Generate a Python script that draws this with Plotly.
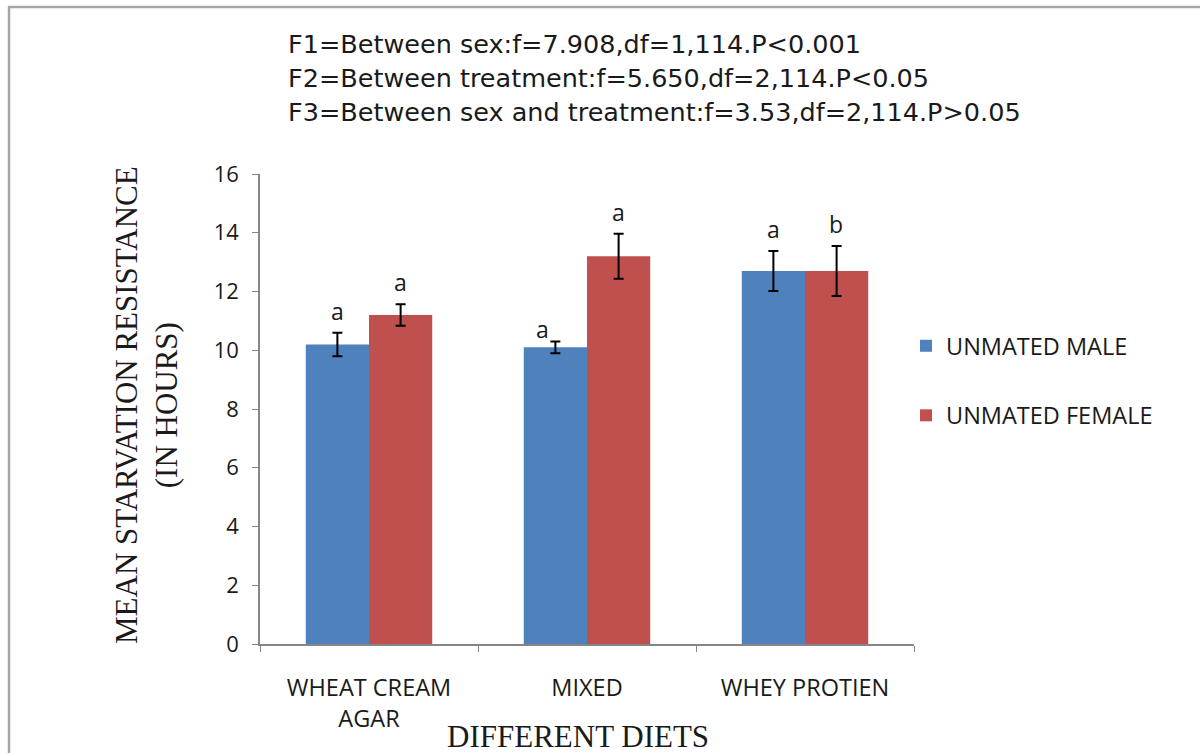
import plotly.graph_objects as go

# Diets and mean starvation resistance (hours) with standard errors
diets = ["WHEAT CREAM<br>AGAR", "MIXED", "WHEY PROTIEN"]
male_mean = [10.2, 10.1, 12.7]
male_err = [0.4, 0.2, 0.68]
female_mean = [11.2, 13.2, 12.7]
female_err = [0.37, 0.77, 0.85]
male_letters = ["a", "a", "a"]
female_letters = ["a", "a", "b"]
y_ticks = [0, 2, 4, 6, 8, 10, 12, 14, 16]

stats_lines = [
    "F1=Between sex:f=7.908,df=1,114.P<0.001",
    "F2=Between treatment:f=5.650,df=2,114.P<0.05",
    "F3=Between sex and treatment:f=3.53,df=2,114.P>0.05",
]

SANS = "'Open Sans', Lato, sans-serif"
WIDE_SANS = "'DejaVu Sans', 'Open Sans', sans-serif"
SERIF = "'Liberation Serif', 'DejaVu Serif', serif"
INK = "#1a1a1a"
BLUE = "#4F81BD"
RED = "#C0504D"

W, H = 1200, 753
L, R, T, B = 260, 286, 174, 109
pw, ph = W - L - R, H - T - B


def px(x):
    return (x - L) / pw


def py(y):
    return (H - B - y) / ph


fig = go.Figure()
fig.add_trace(go.Bar(
    name="UNMATED MALE", x=diets, y=male_mean, marker_color=BLUE,
    marker_line_width=0, legendgroup="m",
    error_y=dict(type="data", array=male_err, color="black", thickness=2, width=5),
))
fig.add_trace(go.Bar(
    name="UNMATED FEMALE", x=diets, y=female_mean, marker_color=RED,
    marker_line_width=0, legendgroup="f",
    error_y=dict(type="data", array=female_err, color="black", thickness=2, width=5),
))

# Significance letters above the error bars
annotations = []
for i, d in enumerate(diets):
    for letters, mean, err, shift in ((male_letters, male_mean, male_err, -32),
                                      (female_letters, female_mean, female_err, 31)):
        xs = shift
        if i == 1 and letters is male_letters:
            xs = shift - 13
            ys = -6
        else:
            ys = 4
        annotations.append(dict(
            x=d, y=mean[i] + err[i], xref="x", yref="y", text=letters[i],
            showarrow=False, xshift=xs, yshift=ys, yanchor="bottom",
            font=dict(family=SANS, size=23, color=INK),
        ))

# Statistics header
for k, line in enumerate(stats_lines):
    annotations.append(dict(
        x=px(286), y=py(44 + 34 * k), xref="paper", yref="paper", text=line,
        showarrow=False, xanchor="left", yanchor="middle",
        font=dict(family=WIDE_SANS, size=25.5, color=INK),
    ))

# Axis titles
annotations.append(dict(
    x=px(146), y=py(405), xref="paper", yref="paper",
    text="MEAN STARVATION RESISTANCE<br>(IN HOURS)", textangle=-90,
    showarrow=False, xanchor="center", yanchor="middle",
    font=dict(family=SERIF, size=31, color=INK),
))
annotations.append(dict(
    x=px(578), y=py(736), xref="paper", yref="paper", text="DIFFERENT DIETS",
    showarrow=False, xanchor="center", yanchor="middle",
    font=dict(family=SERIF, size=31, color=INK),
))

# Page frame on the top and left edges
shapes = [
    dict(type="line", xref="paper", yref="paper", x0=px(8), x1=px(1200),
         y0=py(7), y1=py(7), line=dict(color="#a6a6a6", width=2.5)),
    dict(type="line", xref="paper", yref="paper", x0=px(9), x1=px(9),
         y0=py(7), y1=py(753), line=dict(color="#a6a6a6", width=2.5)),
]

fig.update_layout(
    width=W, height=H,
    margin=dict(l=L, r=R, t=T, b=B, autoexpand=False),
    paper_bgcolor="white", plot_bgcolor="white",
    barmode="group", bargap=0.42, bargroupgap=0,
    showlegend=True,
    legend=dict(
        x=px(906), y=py(324), xanchor="left", yanchor="top",
        font=dict(family=SANS, size=23.5, color=INK),
        tracegroupgap=36, itemwidth=30, bgcolor="rgba(0,0,0,0)",
    ),
    annotations=annotations,
    shapes=shapes,
)
fig.update_xaxes(
    showline=True, linecolor="#868686", linewidth=1.5,
    ticks="outside", ticklen=6, tickcolor="#868686", tickson="boundaries",
    ticklabelstandoff=22,
    tickfont=dict(family=SANS, size=23.5, color=INK),
    showgrid=False, zeroline=False,
)
fig.update_yaxes(
    range=[0, 16], tickvals=y_ticks, showline=True, linecolor="#868686",
    linewidth=1.5, ticks="outside", ticklen=6, tickcolor="#868686",
    ticklabelstandoff=9,
    tickfont=dict(family=SANS, size=22, color=INK),
    showgrid=False, zeroline=False,
)

fig.write_html("out.html")
